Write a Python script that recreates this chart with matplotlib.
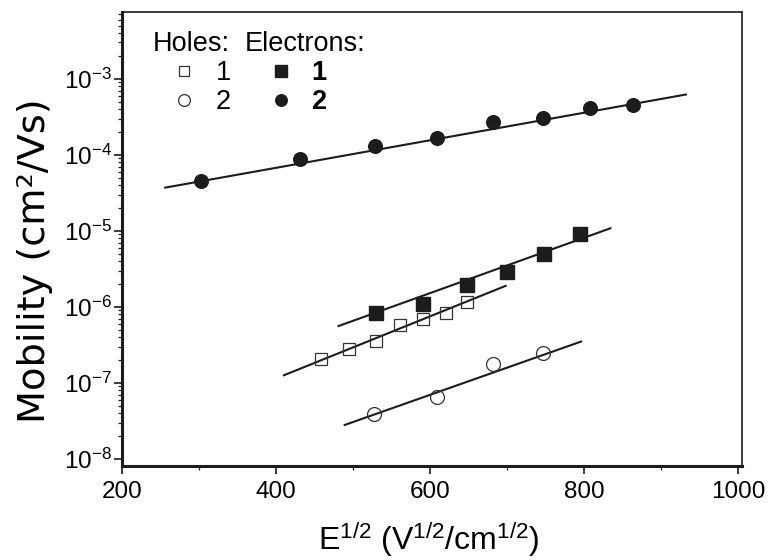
import matplotlib
matplotlib.use("Agg")
import matplotlib.pyplot as plt
from matplotlib.ticker import FixedLocator, MultipleLocator, NullFormatter

plt.rcParams['font.family'] = ['Liberation Sans', 'DejaVu Sans']
plt.rcParams['mathtext.fontset'] = 'custom'
plt.rcParams['mathtext.rm'] = 'Liberation Sans'
plt.rcParams['mathtext.it'] = 'Liberation Sans:italic'
plt.rcParams['mathtext.bf'] = 'Liberation Sans:bold'

# electrons, sample 2 (filled circles)
e2_x = [303, 431, 528, 609, 681, 747, 807, 863]
e2_y = [4.55e-5, 8.8e-5, 1.31e-4, 1.66e-4, 2.66e-4, 3.07e-4, 4.11e-4, 4.46e-4]
e2_fit_x = [256, 932]
e2_fit_y = [3.7e-5, 6.2e-4]

# electrons, sample 1 (filled squares)
e1_x = [529, 591, 648, 700, 748, 794]
e1_y = [8.4e-7, 1.1e-6, 1.96e-6, 2.88e-6, 5.0e-6, 9.1e-6]
e1_fit_x = [481, 834]
e1_fit_y = [5.6e-7, 1.08e-5]

# holes, sample 1 (open squares)
h1_x = [458, 495, 529, 561, 591, 620, 648]
h1_y = [2.05e-7, 2.77e-7, 3.6e-7, 5.75e-7, 6.96e-7, 8.2e-7, 1.17e-6]
h1_fit_x = [410, 698]
h1_fit_y = [1.26e-7, 1.89e-6]

# holes, sample 2 (open circles)
h2_x = [527, 609, 681, 747]
h2_y = [3.9e-8, 6.6e-8, 1.76e-7, 2.45e-7]
h2_fit_x = [489, 796]
h2_fit_y = [2.8e-8, 3.5e-7]

y_decades = [1e-8, 1e-7, 1e-6, 1e-5, 1e-4, 1e-3]
x_ticks = [200, 400, 600, 800, 1000]

ink = '#1c1c1c'

fig = plt.figure(figsize=(7.73, 5.60), dpi=100)
ax = fig.add_axes([0.158, 0.168, 0.802, 0.811])

for fx, fy in [(e2_fit_x, e2_fit_y), (e1_fit_x, e1_fit_y),
               (h1_fit_x, h1_fit_y), (h2_fit_x, h2_fit_y)]:
    ax.plot(fx, fy, color=ink, lw=1.5, zorder=2)

h1, = ax.plot(h1_x, h1_y, 's', ms=9.2, mfc='none', mec='#333333', mew=0.9, zorder=3)
h2, = ax.plot(h2_x, h2_y, 'o', ms=10, mfc='none', mec='#333333', mew=0.9, zorder=3)
e1, = ax.plot(e1_x, e1_y, 's', ms=9.4, mfc=ink, mec=ink, zorder=3)
e2, = ax.plot(e2_x, e2_y, 'o', ms=9.8, mfc=ink, mec=ink, zorder=3)

ax.set_yscale('log')
ax.set_xlim(200, 1005)
ax.set_ylim(8.1e-9, 7.6e-3)

ax.xaxis.set_major_locator(FixedLocator(x_ticks))
ax.xaxis.set_minor_locator(FixedLocator([300, 500, 700, 900]))
minor_y = [d * k for d in y_decades + [1e-2] for k in range(2, 10)
           if 8.1e-9 <= d * k <= 7.6e-3]
ax.yaxis.set_major_locator(FixedLocator(y_decades))
ax.yaxis.set_minor_locator(FixedLocator(minor_y))
ax.yaxis.set_minor_formatter(NullFormatter())

ax.tick_params(which='major', direction='out', length=5.5, width=1.2,
               labelsize=17.5, color=ink, pad=2, top=False, right=False)
ax.tick_params(which='minor', direction='out', length=3, width=0.9,
               color=ink, top=False, right=False)
ax.tick_params(axis='x', which='major', pad=5)

for side in ['left', 'bottom']:
    ax.spines[side].set_linewidth(2.2)
    ax.spines[side].set_color(ink)
for side in ['top', 'right']:
    ax.spines[side].set_linewidth(1.2)
    ax.spines[side].set_color(ink)

ax.set_xlabel(r'E$^{1/2}$ (V$^{1/2}$/cm$^{1/2}$)', fontsize=23)
ax.xaxis.set_label_coords(0.495, -0.118, transform=ax.transAxes)
ax.xaxis.label.set_va('top')
ax.set_ylabel('Mobility (cm²/Vs)', fontsize=27.5, family=['DejaVu Sans'])
ax.yaxis.set_label_coords(-0.112, 0.452, transform=ax.transAxes)

leg1 = ax.legend([h1, h2], ['1', '2'], title='Holes:', loc='upper left',
                 bbox_to_anchor=(0.05, 0.958), frameon=False, fontsize=19.5,
                 title_fontsize=19.5, handlelength=2.3, handletextpad=0.0,
                 labelspacing=0.12, borderpad=0, borderaxespad=0,
                 markerscale=0.85, alignment='left')
ax.add_artist(leg1)
ax.legend([e1, e2], ['1', '2'], title='Electrons:', loc='upper left',
          bbox_to_anchor=(0.198, 0.958), frameon=False,
          prop={'size': 19.5, 'weight': 'bold'}, title_fontsize=19.5,
          handlelength=2.66, handletextpad=-0.2, labelspacing=0.12,
          borderpad=0, borderaxespad=0, markerscale=0.85, alignment='left')

fig.savefig('out.png', dpi=100)
